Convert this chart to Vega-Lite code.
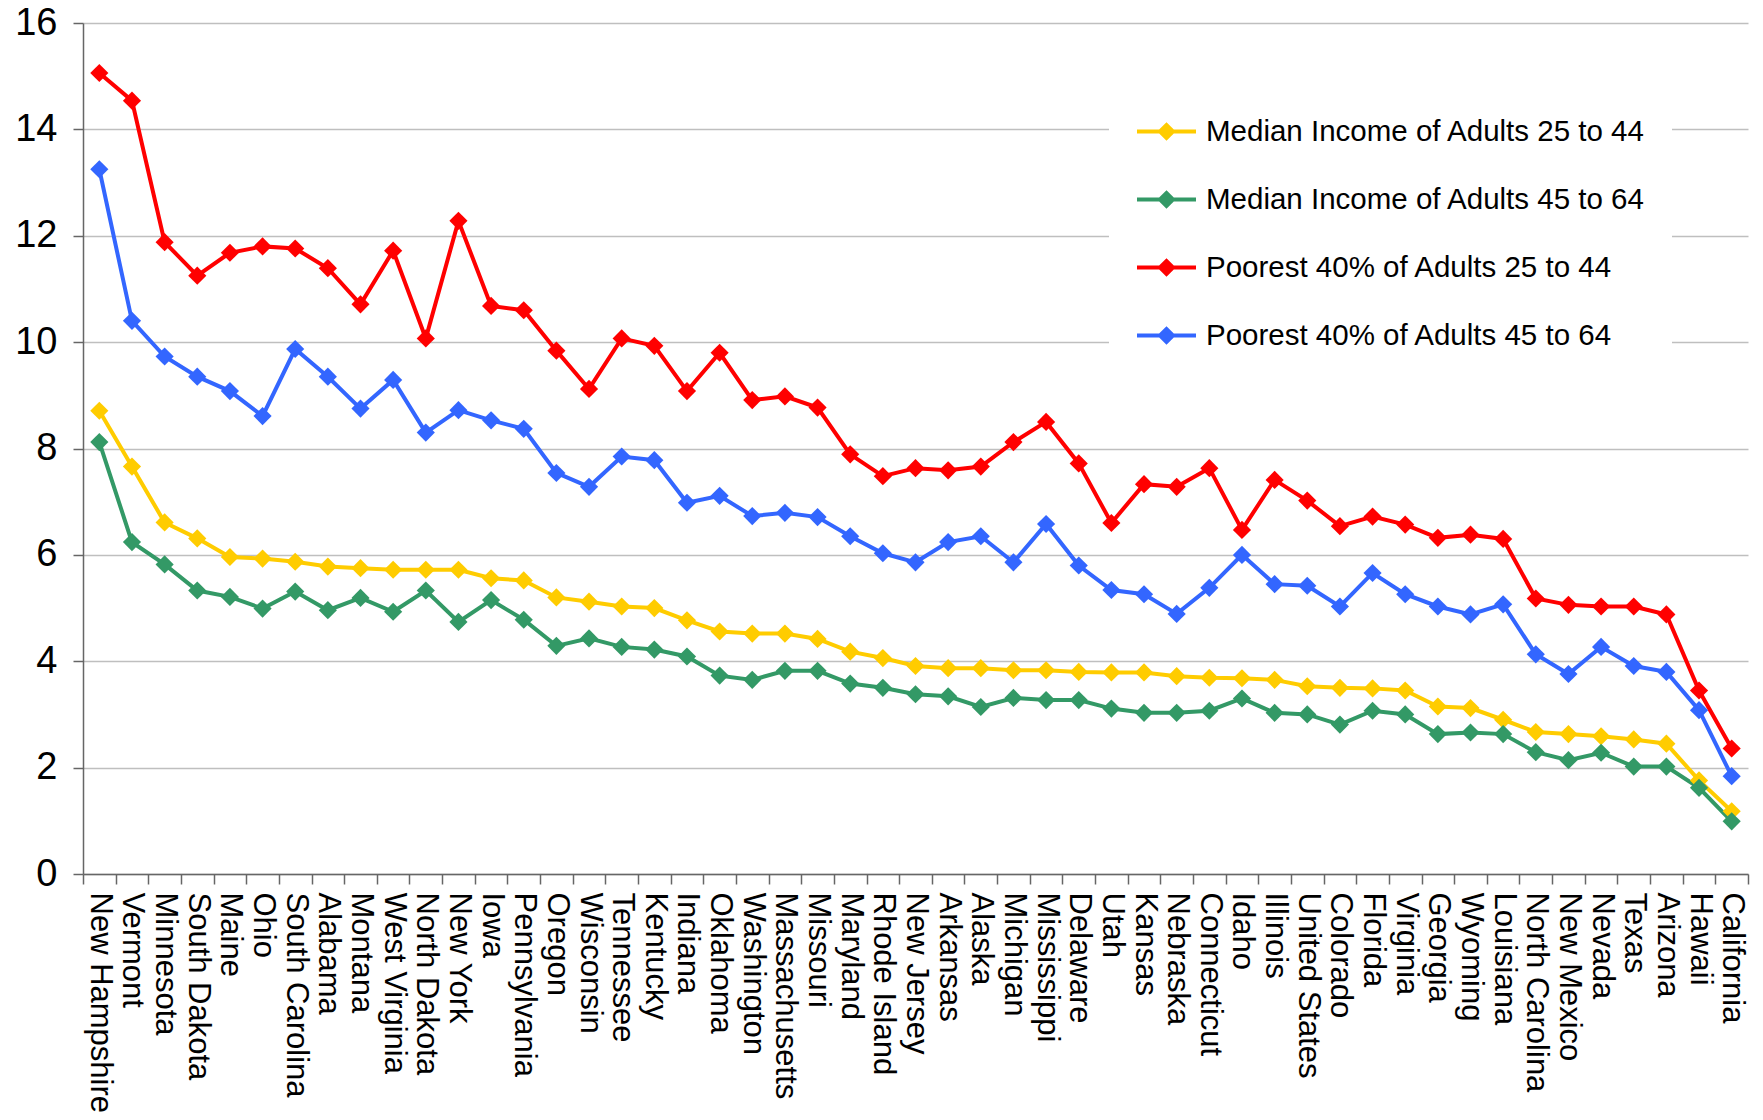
{
  "$schema": "https://vega.github.io/schema/vega-lite/v6.json",
  "width": 1665,
  "height": 851,
  "autosize": {"type": "none"},
  "padding": {"left": 83, "top": 23, "right": 15, "bottom": 246},
  "background": "white",
  "config": {"view": {"stroke": null}, "font": "Liberation Sans"},
  "datasets": {
    "rows": [
      {"state": "New Hampshire", "m1": 8.71, "m2": 8.12, "p1": 15.06, "p2": 13.25},
      {"state": "Vermont", "m1": 7.66, "m2": 6.24, "p1": 14.54, "p2": 10.40},
      {"state": "Minnesota", "m1": 6.61, "m2": 5.82, "p1": 11.88, "p2": 9.73},
      {"state": "South Dakota", "m1": 6.31, "m2": 5.33, "p1": 11.25, "p2": 9.35},
      {"state": "Maine", "m1": 5.96, "m2": 5.21, "p1": 11.68, "p2": 9.08},
      {"state": "Ohio", "m1": 5.93, "m2": 4.99, "p1": 11.80, "p2": 8.61},
      {"state": "South Carolina", "m1": 5.87, "m2": 5.31, "p1": 11.76, "p2": 9.87},
      {"state": "Alabama", "m1": 5.78, "m2": 4.96, "p1": 11.39, "p2": 9.35},
      {"state": "Montana", "m1": 5.75, "m2": 5.19, "p1": 10.71, "p2": 8.75},
      {"state": "West Virginia", "m1": 5.72, "m2": 4.93, "p1": 11.72, "p2": 9.29},
      {"state": "North Dakota", "m1": 5.72, "m2": 5.33, "p1": 10.07, "p2": 8.30},
      {"state": "New York", "m1": 5.72, "m2": 4.74, "p1": 12.28, "p2": 8.72},
      {"state": "Iowa", "m1": 5.56, "m2": 5.15, "p1": 10.68, "p2": 8.53},
      {"state": "Pennsylvania", "m1": 5.52, "m2": 4.78, "p1": 10.60, "p2": 8.37},
      {"state": "Oregon", "m1": 5.20, "m2": 4.29, "p1": 9.84, "p2": 7.54},
      {"state": "Wisconsin", "m1": 5.12, "m2": 4.43, "p1": 9.12, "p2": 7.28},
      {"state": "Tennessee", "m1": 5.03, "m2": 4.27, "p1": 10.07, "p2": 7.85},
      {"state": "Kentucky", "m1": 5.00, "m2": 4.22, "p1": 9.93, "p2": 7.78},
      {"state": "Indiana", "m1": 4.77, "m2": 4.09, "p1": 9.08, "p2": 6.98},
      {"state": "Oklahoma", "m1": 4.56, "m2": 3.73, "p1": 9.80, "p2": 7.11},
      {"state": "Washington", "m1": 4.52, "m2": 3.65, "p1": 8.91, "p2": 6.73},
      {"state": "Massachusetts", "m1": 4.52, "m2": 3.82, "p1": 8.98, "p2": 6.79},
      {"state": "Missouri", "m1": 4.42, "m2": 3.82, "p1": 8.77, "p2": 6.71},
      {"state": "Maryland", "m1": 4.18, "m2": 3.58, "p1": 7.89, "p2": 6.35},
      {"state": "Rhode Island", "m1": 4.06, "m2": 3.50, "p1": 7.48, "p2": 6.03},
      {"state": "New Jersey", "m1": 3.91, "m2": 3.38, "p1": 7.63, "p2": 5.86},
      {"state": "Arkansas", "m1": 3.87, "m2": 3.34, "p1": 7.59, "p2": 6.24},
      {"state": "Alaska", "m1": 3.87, "m2": 3.14, "p1": 7.66, "p2": 6.35},
      {"state": "Michigan", "m1": 3.83, "m2": 3.31, "p1": 8.12, "p2": 5.86},
      {"state": "Mississippi", "m1": 3.83, "m2": 3.27, "p1": 8.50, "p2": 6.58},
      {"state": "Delaware", "m1": 3.80, "m2": 3.27, "p1": 7.72, "p2": 5.80},
      {"state": "Utah", "m1": 3.79, "m2": 3.11, "p1": 6.60, "p2": 5.34},
      {"state": "Kansas", "m1": 3.79, "m2": 3.03, "p1": 7.33, "p2": 5.26},
      {"state": "Nebraska", "m1": 3.72, "m2": 3.03, "p1": 7.28, "p2": 4.89},
      {"state": "Connecticut", "m1": 3.69, "m2": 3.07, "p1": 7.63, "p2": 5.38},
      {"state": "Idaho", "m1": 3.68, "m2": 3.30, "p1": 6.47, "p2": 6.00},
      {"state": "Illinois", "m1": 3.65, "m2": 3.03, "p1": 7.41, "p2": 5.45},
      {"state": "United States", "m1": 3.53, "m2": 3.00, "p1": 7.02, "p2": 5.42},
      {"state": "Colorado", "m1": 3.50, "m2": 2.81, "p1": 6.54, "p2": 5.03},
      {"state": "Florida", "m1": 3.49, "m2": 3.07, "p1": 6.72, "p2": 5.66},
      {"state": "Virginia", "m1": 3.45, "m2": 3.00, "p1": 6.57, "p2": 5.26},
      {"state": "Georgia", "m1": 3.15, "m2": 2.63, "p1": 6.32, "p2": 5.03},
      {"state": "Wyoming", "m1": 3.12, "m2": 2.66, "p1": 6.38, "p2": 4.88},
      {"state": "Louisiana", "m1": 2.90, "m2": 2.63, "p1": 6.30, "p2": 5.07},
      {"state": "North Carolina", "m1": 2.67, "m2": 2.29, "p1": 5.18, "p2": 4.13},
      {"state": "New Mexico", "m1": 2.63, "m2": 2.14, "p1": 5.06, "p2": 3.76},
      {"state": "Nevada", "m1": 2.59, "m2": 2.28, "p1": 5.03, "p2": 4.27},
      {"state": "Texas", "m1": 2.53, "m2": 2.02, "p1": 5.03, "p2": 3.91},
      {"state": "Arizona", "m1": 2.45, "m2": 2.02, "p1": 4.88, "p2": 3.80},
      {"state": "Hawaii", "m1": 1.76, "m2": 1.62, "p1": 3.45, "p2": 3.08},
      {"state": "California", "m1": 1.18, "m2": 0.99, "p1": 2.36, "p2": 1.84}
    ]
  },
  "data": {"name": "rows"},
  "transform": [
    {"fold": ["m1", "m2", "p1", "p2"], "as": ["series", "value"]}
  ],
  "encoding": {
    "x": {
      "field": "state",
      "type": "nominal",
      "sort": null,
      "scale": {"type": "band", "paddingInner": 0, "paddingOuter": 0},
      "axis": {
        "title": null,
        "labelAngle": 90,
        "labelAlign": "left",
        "labelBaseline": "middle",
        "labelFontSize": 31,
        "labelFont": "Liberation Sans",
        "labelColor": "black",
        "labelPadding": 8,
        "labelLimit": 0,
        "tickBand": "extent",
        "ticks": true,
        "tickSize": 10,
        "tickColor": "#666666",
        "tickWidth": 1.5,
        "domainColor": "#666666",
        "domainWidth": 1.5,
        "grid": false
      }
    },
    "y": {
      "field": "value",
      "type": "quantitative",
      "scale": {"domain": [0, 16], "nice": false},
      "axis": {
        "title": null,
        "values": [0, 2, 4, 6, 8, 10, 12, 14, 16],
        "labelFontSize": 38,
        "labelFont": "Liberation Sans",
        "labelColor": "black",
        "labelPadding": 16,
        "tickSize": 10,
        "tickColor": "#666666",
        "tickWidth": 1.5,
        "domainColor": "#666666",
        "domainWidth": 1.5,
        "grid": true,
        "gridColor": "#bfbfbf",
        "gridWidth": 1.5
      }
    }
  },
  "layer": [
    {
      "mark": {"type": "line", "strokeWidth": 4},
      "encoding": {
        "stroke": {
          "field": "series",
          "type": "nominal",
          "scale": {"domain": ["m1", "m2", "p1", "p2"], "range": ["#ffcc00", "#339966", "#ff0000", "#3366ff"]},
          "legend": {
            "title": null,
            "orient": "none",
            "legendX": 1026,
            "legendY": 51,
            "symbolType": "M-1,0L1,0M-0.22,0L0,-0.22L0.22,0L0,0.22Z",
            "symbolSize": 3481,
            "symbolStrokeWidth": 4,
            "labelFontSize": 29.5,
            "labelFont": "Liberation Sans",
            "labelColor": "black",
            "labelOffset": 8,
            "labelLimit": 0,
            "rowPadding": 22,
            "padding": 26,
            "fillColor": "white",
            "labelExpr": "{'m1': 'Median Income of Adults 25 to 44', 'm2': 'Median Income of Adults 45 to 64', 'p1': 'Poorest 40% of Adults 25 to 44', 'p2': 'Poorest 40% of Adults 45 to 64'}[datum.label]"
          }
        }
      }
    },
    {
      "mark": {"type": "point", "shape": "diamond", "size": 330, "filled": true, "opacity": 1},
      "encoding": {
        "fill": {
          "field": "series",
          "type": "nominal",
          "scale": {"domain": ["m1", "m2", "p1", "p2"], "range": ["#ffcc00", "#339966", "#ff0000", "#3366ff"]},
          "legend": {
            "title": null,
            "orient": "none",
            "legendX": 1026,
            "legendY": 51,
            "symbolType": "M-1,0L1,0M-0.22,0L0,-0.22L0.22,0L0,0.22Z",
            "symbolSize": 3481,
            "symbolStrokeWidth": 4,
            "labelFontSize": 29.5,
            "labelFont": "Liberation Sans",
            "labelColor": "black",
            "labelOffset": 8,
            "labelLimit": 0,
            "rowPadding": 22,
            "padding": 26,
            "fillColor": "white",
            "labelExpr": "{'m1': 'Median Income of Adults 25 to 44', 'm2': 'Median Income of Adults 45 to 64', 'p1': 'Poorest 40% of Adults 25 to 44', 'p2': 'Poorest 40% of Adults 45 to 64'}[datum.label]"
          }
        }
      }
    }
  ]
}
